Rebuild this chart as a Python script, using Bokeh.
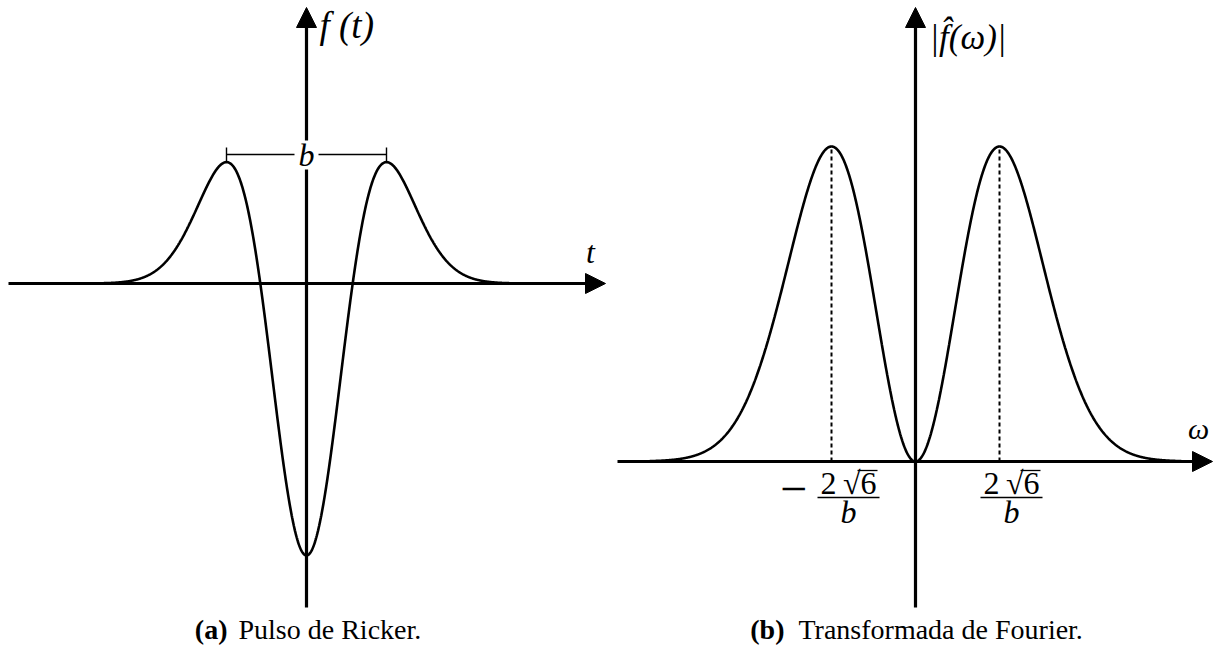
import numpy as np
from bokeh.plotting import figure
from bokeh.models import Arrow, NormalHead, Label, Range1d, BoxAnnotation
from bokeh.layouts import row
from bokeh.embed import file_html
from bokeh.resources import INLINE

# ---- model parameters -------------------------------------------------
B = 1.0                                  # distance between the side lobes of the pulse
SIGMA = B / (2.0 * np.sqrt(3.0))         # Ricker width parameter
T_LIMIT = 1.54                           # drawn half-span of t
OMEGA_PEAK = 2.0 * np.sqrt(6.0) / B      # peak frequency 2*sqrt(6)/b
OMEGA_LIMIT = 15.5                       # drawn half-span of omega

t = np.linspace(-T_LIMIT, T_LIMIT, 1201)
pulse = -(1.0 - (t / SIGMA) ** 2) * np.exp(-0.5 * (t / SIGMA) ** 2)
omega = np.linspace(-OMEGA_LIMIT, OMEGA_LIMIT, 1201)
spectrum = (omega / OMEGA_PEAK) ** 2 * np.exp(1.0 - (omega / OMEGA_PEAK) ** 2)

side_lobes_t = [-B / 2.0, B / 2.0]
peak_freqs = [-OMEGA_PEAK, OMEGA_PEAK]
freq_signs = ["\u2212", ""]
freq_numerator = "2\u2009\u221a6"
freq_denominator = "b"

left_caption = ["(a)", "Pulso de Ricker."]
right_caption = ["(b)", "Transformada de Fourier."]

MATH_FONT = "'Liberation Serif', 'DejaVu Serif', serif"
TEXT_FONT = "'Liberation Serif', 'DejaVu Serif', serif"
H = 650
W_L = 611
W_R = 1215 - W_L

# ---- pixel <-> data helpers for each panel -----------------------------
X0_L, SX_L, Y0_L, SY_L = 306.0, 160.0, 283.0, 272.0
def lx(px):
    return (px - X0_L) / SX_L
def ly(py):
    return (Y0_L - py) / SY_L

X0_R, SX_R, Y0_R, SY_R = 915.0, 84.0 / OMEGA_PEAK, 461.0, 315.0
def rx(px):
    return (px - X0_R) / SX_R
def ry(py):
    return (Y0_R - py) / SY_R


def bare_figure(width, xr, yr):
    p = figure(width=width, height=H, x_range=xr, y_range=yr,
               output_backend="svg", toolbar_location=None,
               x_axis_location=None, y_axis_location=None,
               min_border=0, outline_line_color=None,
               background_fill_color="white", border_fill_color="white")
    p.grid.grid_line_color = None
    return p


def axis_arrow(p, xs, ys, xe, ye):
    p.add_layout(Arrow(end=NormalHead(size=20, fill_color="black", line_color="black", line_width=1),
                       x_start=xs, y_start=ys, x_end=xe, y_end=ye,
                       line_width=3.2, line_color="black"))


def text(p, x, ybase_px, to_y, s, size, align="left", style="normal", font=TEXT_FONT):
    # place by baseline pixel; the label itself is centred on its em box
    y = to_y(ybase_px - 0.34 * size)
    p.add_layout(Label(x=x, y=y, text=s, text_font=font, text_font_size=f"{size}px",
                       text_font_style=style, text_align=align, text_baseline="middle",
                       text_color="black"))


# ---- (a) Ricker pulse ---------------------------------------------------
p1 = bare_figure(W_L, Range1d(lx(0), lx(W_L)), Range1d(ly(H), ly(0)))
axis_arrow(p1, lx(8), 0.0, lx(605), 0.0)
axis_arrow(p1, 0.0, ly(607), 0.0, ly(7))
p1.line(t, pulse, line_color="black", line_width=2.6)

bracket_y = ly(154)
p1.segment(x0=[side_lobes_t[0]], y0=[bracket_y], x1=[side_lobes_t[1]], y1=[bracket_y],
           line_color="black", line_width=1.4)
p1.segment(x0=side_lobes_t, y0=[ly(147)] * 2, x1=side_lobes_t, y1=[ly(161)] * 2,
           line_color="black", line_width=1.4)
# clear space behind the width label
p1.add_layout(BoxAnnotation(left=lx(294), right=lx(318), bottom=ly(169), top=ly(140),
                            fill_color="white", fill_alpha=1.0, line_color=None))
text(p1, 0.0, 165, ly, "b", 32, align="center", style="italic", font=MATH_FONT)

text(p1, lx(319), 38, ly, "f (t)", 37, style="italic", font=MATH_FONT)
text(p1, lx(590), 262, ly, "t", 32, align="center", style="italic", font=MATH_FONT)

text(p1, lx(227), 639, ly, left_caption[0], 28, align="right", style="bold")
text(p1, lx(238), 639, ly, left_caption[1], 28)

# ---- (b) Fourier transform magnitude ------------------------------------
p2 = bare_figure(W_R, Range1d(rx(W_L), rx(1215)), Range1d(ry(H), ry(0)))
axis_arrow(p2, rx(617), 0.0, rx(1212), 0.0)
axis_arrow(p2, 0.0, ry(607), 0.0, ry(7))
p2.line(omega, spectrum, line_color="black", line_width=2.6)
peak_vals = [float((w / OMEGA_PEAK) ** 2 * np.exp(1.0 - (w / OMEGA_PEAK) ** 2)) for w in peak_freqs]
p2.segment(x0=peak_freqs, y0=[0.0, 0.0], x1=peak_freqs, y1=peak_vals,
           line_color="black", line_width=2.0, line_dash="4 3")

text(p2, rx(929), 49, ry, "|f\u0302(\u03c9)|", 35, style="italic", font=MATH_FONT)
text(p2, rx(1198), 438, ry, "\u03c9", 30, align="center", style="italic", font=MATH_FONT)

# frequency tick labels  -2sqrt6/b  and  2sqrt6/b
frac_centres = [rx(848), rx(1011)]
frac_half = 31.0 / SX_R
for w, sign, xc in zip(peak_freqs, freq_signs, frac_centres):
    if sign:
        text(p2, rx(793), 505, ry, sign, 48, align="center", font=MATH_FONT)
    text(p2, xc, 493, ry, freq_numerator, 32, align="center", font=MATH_FONT)
    text(p2, xc, 522, ry, freq_denominator, 32, align="center", style="italic", font=MATH_FONT)
# fraction bars and radical overbars
p2.segment(x0=[c - frac_half for c in frac_centres], y0=[ry(497)] * 2,
           x1=[c + frac_half for c in frac_centres], y1=[ry(497)] * 2,
           line_color="black", line_width=1.5)
p2.segment(x0=[c + 9.0 / SX_R for c in frac_centres], y0=[ry(470)] * 2,
           x1=[c + 29.0 / SX_R for c in frac_centres], y1=[ry(470)] * 2,
           line_color="black", line_width=1.3)

text(p2, rx(784), 639, ry, right_caption[0], 28, align="right", style="bold")
text(p2, rx(798), 639, ry, right_caption[1], 28)

layout = row(p1, p2, spacing=0)
open("out.html", "w").write(file_html(layout, INLINE))
